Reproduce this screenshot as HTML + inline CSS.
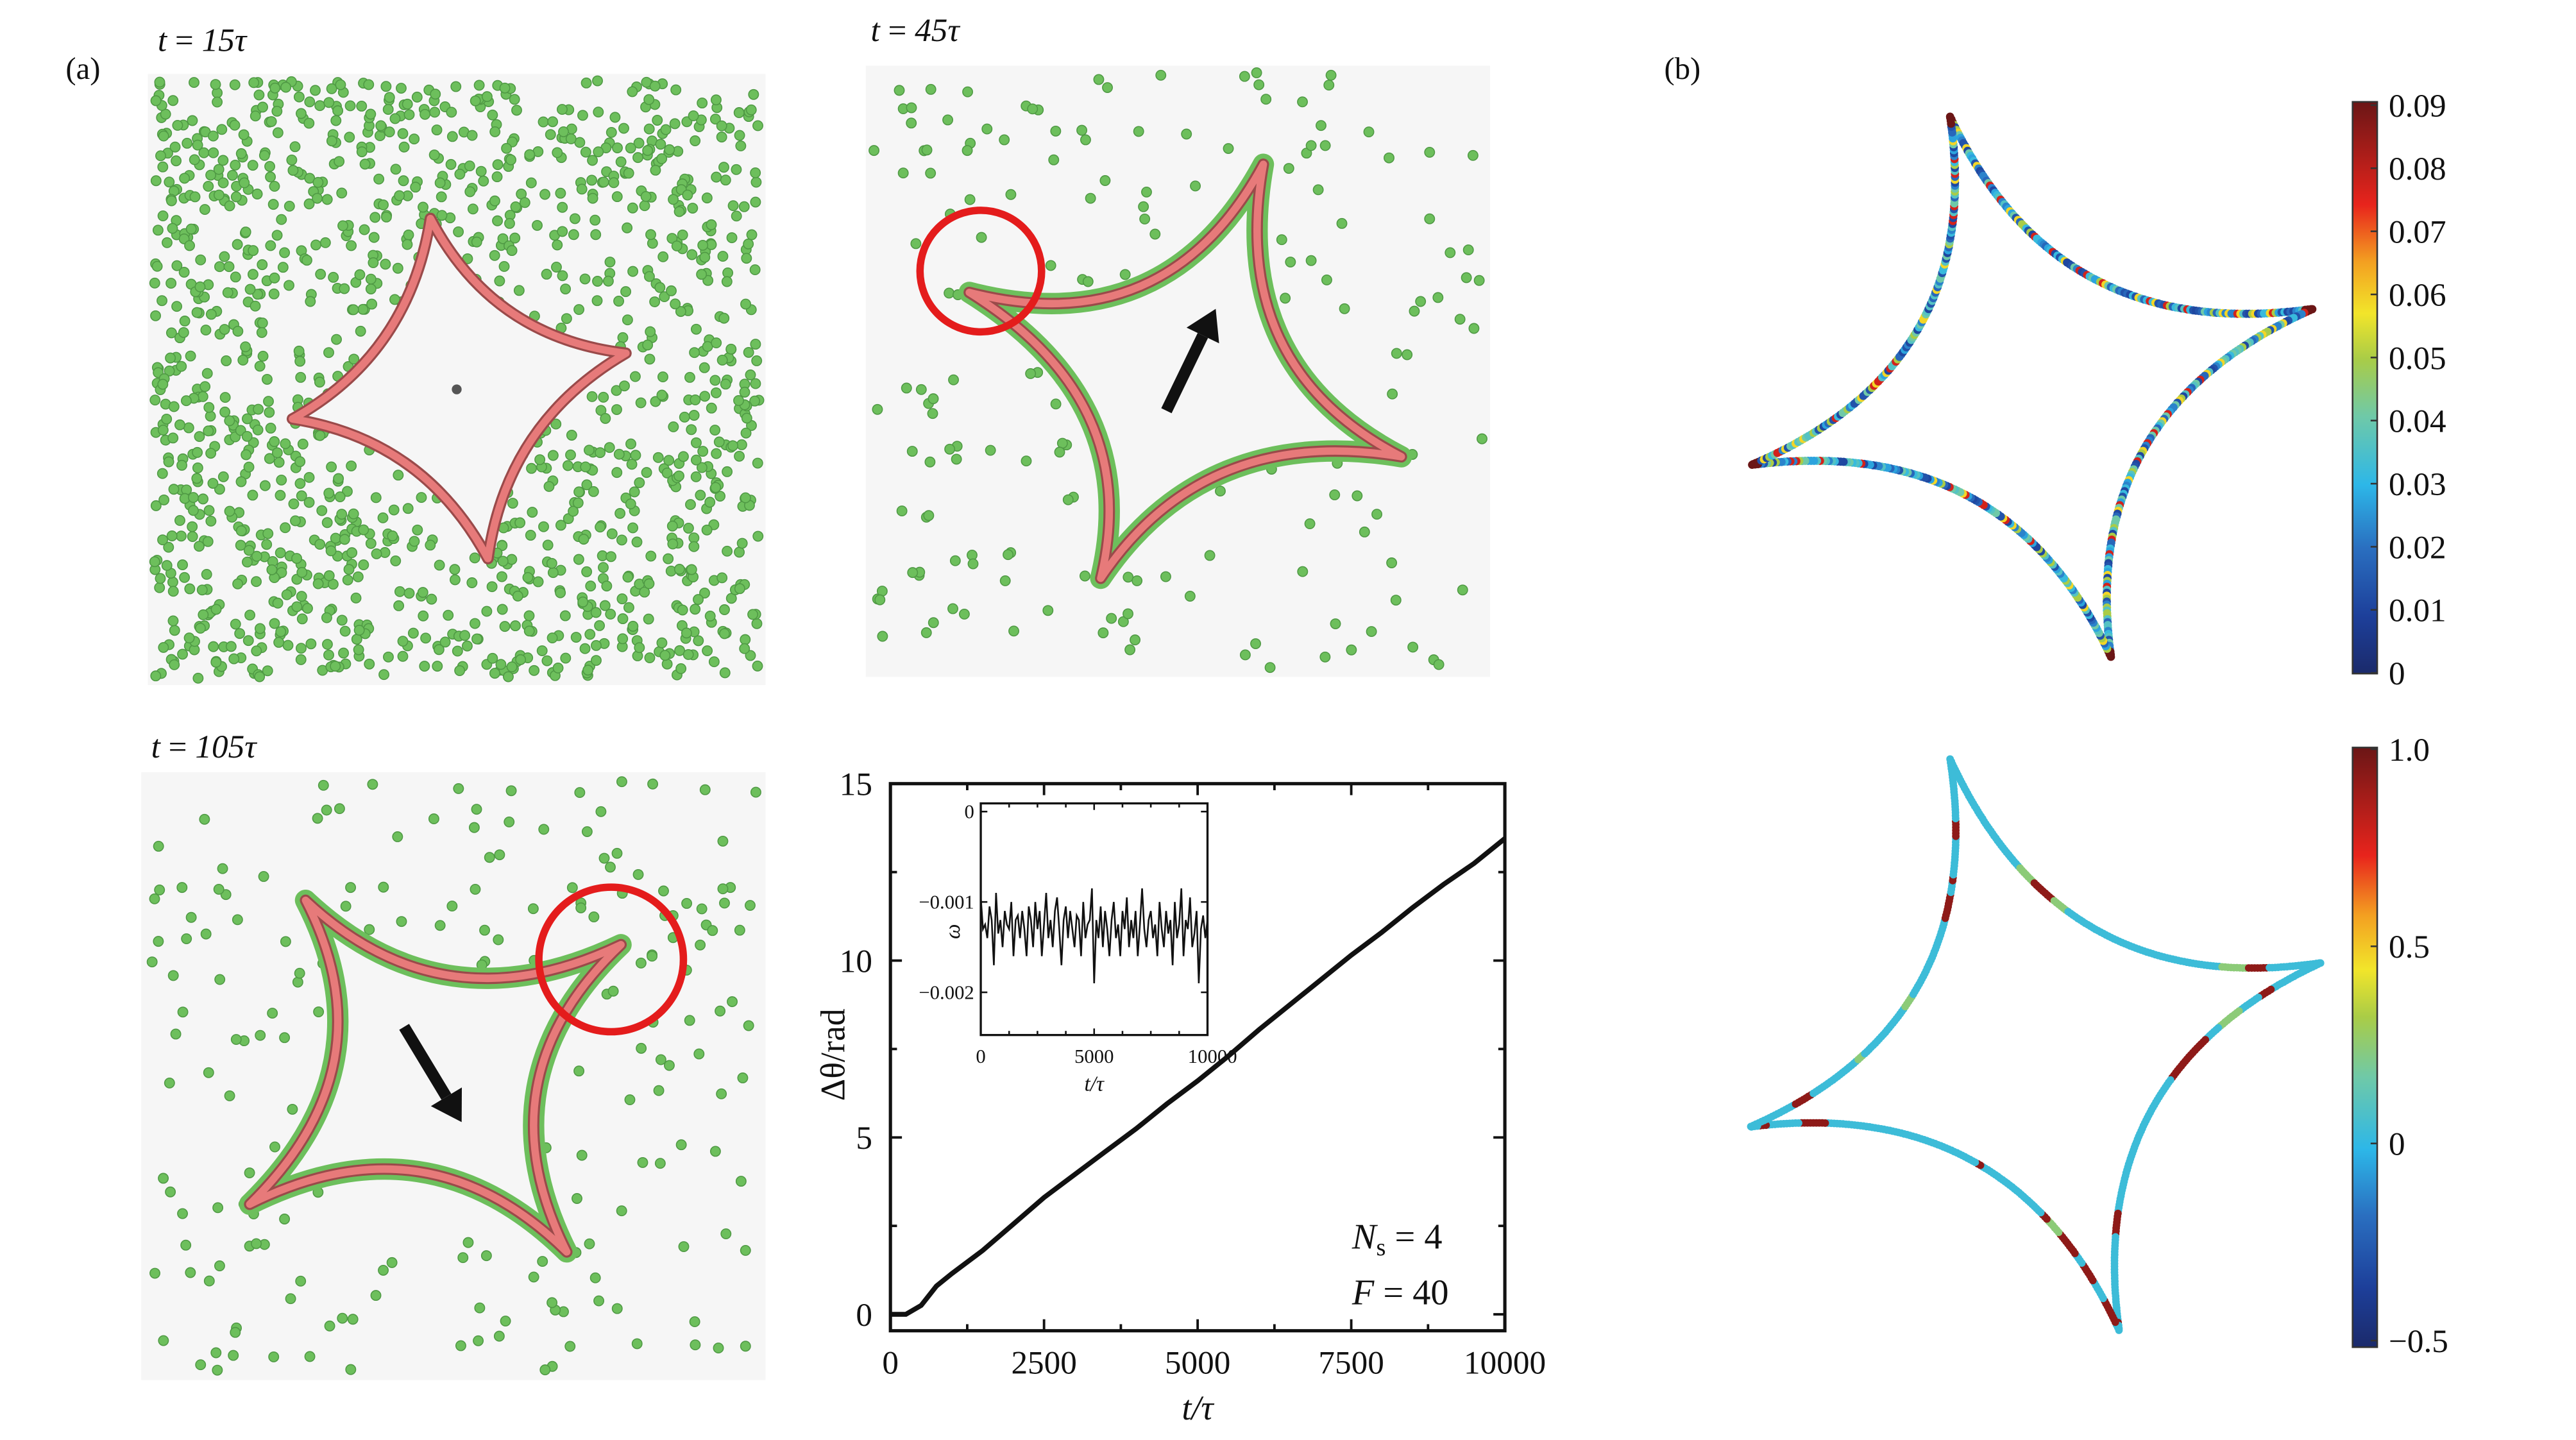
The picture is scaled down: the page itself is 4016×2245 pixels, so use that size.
<!DOCTYPE html>
<html><head><meta charset="utf-8"><style>
html,body{margin:0;padding:0;background:#fff;}
svg{display:block;}
text{font-family:"Liberation Serif",serif;fill:#111;}
</style></head><body>
<svg id="fig" xmlns="http://www.w3.org/2000/svg" width="4016" height="2245" viewBox="0 0 1568 876.5" preserveAspectRatio="none">
<defs>
<linearGradient id="jet" x1="0" y1="1" x2="0" y2="0">
<stop offset="0" stop-color="#1b2a6b"/><stop offset="0.1" stop-color="#1d3f9a"/><stop offset="0.22" stop-color="#2a6fc0"/><stop offset="0.33" stop-color="#2db7e8"/><stop offset="0.45" stop-color="#6fc9a8"/><stop offset="0.55" stop-color="#a9cc47"/><stop offset="0.63" stop-color="#f2e52a"/><stop offset="0.72" stop-color="#f3a021"/><stop offset="0.82" stop-color="#e8241c"/><stop offset="1" stop-color="#6b1616"/>
</linearGradient>
</defs>
<text x="40" y="48" font-size="19">(a)</text>
<text x="1013" y="48" font-size="19">(b)</text>
<text x="96" y="31" font-size="20" font-style="italic">t <tspan font-style="normal">=</tspan> 15τ</text>
<text x="530" y="25" font-size="20" font-style="italic">t <tspan font-style="normal">=</tspan> 45τ</text>
<text x="92" y="461" font-size="20" font-style="italic">t <tspan font-style="normal">=</tspan> 105τ</text>
<g id="sims"></g>
<g id="chart"></g>
<g id="right"></g>
</svg>
<script>
const NS="http://www.w3.org/2000/svg";
const svg=document.getElementById('fig');
function mk(tag,attrs,parent){const e=document.createElementNS(NS,tag);for(const k in attrs)e.setAttribute(k,attrs[k]);(parent||svg).appendChild(e);return e;}
function rng(seed){return function(){seed|=0;seed=seed+0x6D2B79F5|0;let t=Math.imul(seed^seed>>>15,1|seed);t=t+Math.imul(t^t>>>7,61|t)^t;return((t^t>>>14)>>>0)/4294967296;}}
function starPath(tips,c,k){let d='M'+tips[0][0]+' '+tips[0][1];for(let i=0;i<4;i++){const A=tips[i],B=tips[(i+1)%4];const mx=(A[0]+B[0])/2,my=(A[1]+B[1])/2;const cx=c[0]+k*(mx-c[0]),cy=c[1]+k*(my-c[1]);d+=' Q'+cx.toFixed(1)+' '+cy.toFixed(1)+' '+B[0]+' '+B[1];}return d+' Z';}

const sims=document.getElementById('sims');
const panels=[
 {x:90,y:45,w:376,h:372,tips:[[262,133],[381,215],[297,340],[178,255]],c:[278,237],k:0.5,n:1300,coat:false,seed:7},
 {x:527,y:40,w:380,h:372,tips:[[590,178],[769,100],[853,278],[670,352]],c:[722,236],k:0.28,n:170,coat:true,seed:11},
 {x:86,y:470,w:380,h:370,tips:[[186,548],[378,575],[345,762],[152,733]],c:[265,652],k:0.28,n:190,coat:true,seed:23}
];
panels.forEach((p,i)=>{
 const g=mk('g',{},sims);
 
 
 const bg=mk('rect',{x:p.x,y:p.y,width:p.w,height:p.h,fill:'#f6f6f6'},g);
 
 
 const d=starPath(p.tips,p.c,p.k);
 const probe=mk('path',{d:d,fill:'#000',opacity:0},g);
 const r=rng(p.seed);
 const dg=mk('g',{},g);
 
 
 let placed=0,tries=0;
 while(placed<p.n&&tries<20000){tries++;
  const x=p.x+4+r()*(p.w-8),y=p.y+4+r()*(p.h-8);
  let inside=false;try{inside=probe.isPointInFill(new DOMPoint(x,y));}catch(e){}
  if(inside)continue;
  if(i===0){const dx=x-p.c[0],dy=y-p.c[1];const dd=Math.sqrt(dx*dx+dy*dy);if(dd<150&&r()>0.35+dd/300)continue;}
  mk('circle',{cx:x.toFixed(1),cy:y.toFixed(1),r:3,fill:'#6dbf5c',stroke:'#4f9944','stroke-width':0.6},dg);
  placed++;
 }
 probe.remove();
 if(p.coat){const co=mk('path',{d:d,fill:'none',stroke:'#6dbf5c','stroke-width':13,'stroke-linejoin':'round'},g);
  
  }
 const fil=mk('path',{d:d,fill:p.coat?'none':'#f6f6f6',stroke:'#9a4a4a','stroke-width':7,'stroke-linejoin':'round'},g);
 
 
 const fil2=mk('path',{d:d,fill:'none',stroke:'#e77a7a','stroke-width':4.5,'stroke-linejoin':'round'},g);
 
 
 if(i===0){const cd=mk('circle',{cx:278,cy:237,r:3,fill:'#555'},g);
  
  }
});
function arrow(x1,y1,x2,y2,name){
 const ang=Math.atan2(y2-y1,x2-x1),hl=18,hw=11;
 const bx=x2-hl*Math.cos(ang),by=y2-hl*Math.sin(ang);
 const l=mk('line',{x1:x1,y1:y1,x2:bx,y2:by,stroke:'#111','stroke-width':7},sims);
 
 
 const px=-Math.sin(ang)*hw,py=Math.cos(ang)*hw;
 const h=mk('polygon',{points:`${x2},${y2} ${bx+px},${by+py} ${bx-px},${by-py}`,fill:'#111'},sims);
 
 
}
arrow(710,250,740,188,'rotation-arrow-45');
arrow(246,625,281,683,'rotation-arrow-105');
const c1=mk('circle',{cx:597,cy:165,r:37,fill:'none',stroke:'#e41c1c','stroke-width':4.5},sims);


const c2=mk('circle',{cx:372,cy:584,r:44,fill:'none',stroke:'#e41c1c','stroke-width':4.5},sims);



const tVals=[0,250,500,750,1000,1500,2000,2500,3000,3500,4000,4500,5000,5500,6000,6500,7000,7500,8000,8500,9000,9500,10000];
const thetaVals=[0,0,0.25,0.8,1.15,1.8,2.55,3.3,3.95,4.6,5.25,5.95,6.6,7.3,8.05,8.75,9.45,10.15,10.8,11.5,12.15,12.75,13.45];
const xTicks=[0,2500,5000,7500,10000];
const yTicks=[0,5,10,15];
const omegaVals=[-0.00095,-0.0013,-0.00125,-0.0014,-0.00105,-0.0012,-0.0017,-0.0009,-0.00135,-0.0012,-0.0015,-0.0011,-0.00125,-0.0013,-0.001,-0.0016,-0.0012,-0.00115,-0.0014,-0.0011,-0.0013,-0.0016,-0.00105,-0.0012,-0.0015,-0.001,-0.0013,-0.0011,-0.0016,-0.00125,-0.0009,-0.0014,-0.0012,-0.0015,-0.0011,-0.00095,-0.0013,-0.0017,-0.0012,-0.00105,-0.0014,-0.0011,-0.0013,-0.0015,-0.00115,-0.0012,-0.0016,-0.001,-0.0014,-0.00125,-0.0012,-0.00085,-0.0019,-0.0012,-0.0014,-0.00105,-0.0015,-0.0011,-0.0013,-0.0016,-0.0012,-0.001,-0.0014,-0.00125,-0.0016,-0.0011,-0.0013,-0.00095,-0.0015,-0.0012,-0.0014,-0.0011,-0.0016,-0.00125,-0.00085,-0.0013,-0.0015,-0.0012,-0.0011,-0.0014,-0.00125,-0.0016,-0.001,-0.0013,-0.0015,-0.0011,-0.00135,-0.0012,-0.0017,-0.001,-0.0014,-0.00125,-0.00085,-0.0016,-0.0012,-0.0013,-0.00095,-0.0015,-0.00135,-0.0011,-0.0019,-0.0013,-0.00115,-0.0014,-0.0012];
const insetXTicks=[0,5000,10000];
const insetYTicks=[0,-0.001,-0.002];

const ch=document.getElementById('chart');
const X0=542,X1=916,Y0=810,Yt=477;
const xS=t=>X0+t/10000*(X1-X0);
const yS=v=>800-v/15*(800-Yt);
const fr=mk('rect',{x:X0,y:Yt,width:X1-X0,height:Y0-Yt,fill:'none',stroke:'#111','stroke-width':2},ch);


for(let t=0;t<=10000;t+=1250){const x=xS(t),L=t%2500===0?7:4;
 mk('line',{x1:x,y1:Y0,x2:x,y2:Y0-L,stroke:'#111','stroke-width':1.5},ch);
 mk('line',{x1:x,y1:Yt,x2:x,y2:Yt+L,stroke:'#111','stroke-width':1.5},ch);}
xTicks.forEach(t=>{const tx=mk('text',{x:xS(t),y:836,'font-size':20,'text-anchor':'middle'},ch);tx.textContent=t;
 
 });
for(let v=0;v<=15;v+=2.5){const y=yS(v),L=v%5===0?7:4;
 mk('line',{x1:X0,y1:y,x2:X0+L,y2:y,stroke:'#111','stroke-width':1.5},ch);
 mk('line',{x1:X1,y1:y,x2:X1-L,y2:y,stroke:'#111','stroke-width':1.5},ch);}
yTicks.forEach(v=>{const tx=mk('text',{x:531,y:yS(v)+7,'font-size':20,'text-anchor':'end'},ch);tx.textContent=v;
 
 });
const xt=mk('text',{x:729,y:864,'font-size':21,'text-anchor':'middle','font-style':'italic'},ch);xt.textContent='t/τ';


const yt=mk('text',{x:0,y:0,'font-size':21,'text-anchor':'middle',transform:'translate(514,642) rotate(-90)'},ch);yt.textContent='Δθ/rad';


const ln=mk('path',{d:tVals.map((t,i)=>(i?'L':'M')+xS(t).toFixed(1)+' '+yS(thetaVals[i]).toFixed(1)).join(' '),fill:'none',stroke:'#111','stroke-width':3},ch);


const a1=mk('text',{x:823,y:760,'font-size':22,'font-style':'italic'},ch);a1.innerHTML='N<tspan font-size="15" font-style="normal" dy="4">s</tspan><tspan dy="-4" font-style="normal"> = 4</tspan>';


const a2=mk('text',{x:823,y:794,'font-size':22,'font-style':'italic'},ch);a2.innerHTML='F<tspan font-style="normal"> = 40</tspan>';



const IX0=597,IX1=735,IY0=489,IY1=630;
const ixS=t=>IX0+t/10000*(IX1-IX0);
const iyS=w=>494+(-w/0.001)*55;
const ig=mk('g',{},ch);


mk('rect',{x:IX0,y:IY0,width:IX1-IX0,height:IY1-IY0,fill:'#fff',stroke:'#111','stroke-width':1.3},ig);
insetYTicks.forEach(w=>{const y=iyS(w);mk('line',{x1:IX0,y1:y,x2:IX0+4,y2:y,stroke:'#111'},ig);mk('line',{x1:IX1,y1:y,x2:IX1-4,y2:y,stroke:'#111'},ig);
 const tx=mk('text',{x:593,y:y+4,'font-size':12,'text-anchor':'end'},ig);tx.textContent=w===0?'0':'−'+Math.abs(w).toFixed(3);
 
 });
for(let t=0;t<=10000;t+=1250){const x=ixS(t);mk('line',{x1:x,y1:IY1,x2:x,y2:IY1-(t%5000===0?4:2.5),stroke:'#111'},ig);mk('line',{x1:x,y1:IY0,x2:x,y2:IY0+(t%5000===0?4:2.5),stroke:'#111'},ig);}
insetXTicks.forEach(t=>{const tx=mk('text',{x:ixS(t)+(t===10000?3:0),y:647,'font-size':12,'text-anchor':'middle'},ig);tx.textContent=t;
 
 });
const ixt=mk('text',{x:666,y:664,'font-size':13,'text-anchor':'middle','font-style':'italic'},ig);ixt.textContent='t/τ';


const iyt=mk('text',{x:0,y:0,'font-size':13,'text-anchor':'middle','font-style':'italic',transform:'translate(584,567) rotate(-90)'},ig);iyt.textContent='ω';


const n=omegaVals.length;
const il=mk('path',{d:omegaVals.map((w,i)=>(i?'L':'M')+ixS(i*10000/(n-1)).toFixed(2)+' '+iyS(w).toFixed(2)).join(' '),fill:'none',stroke:'#111','stroke-width':1},ig);



const rg=document.getElementById('right');
function jet(v){const st=[[0,[27,42,107]],[0.1,[29,63,154]],[0.22,[42,111,192]],[0.33,[45,183,232]],[0.45,[111,201,168]],[0.55,[169,204,71]],[0.63,[242,229,42]],[0.72,[243,160,33]],[0.82,[232,36,28]],[1,[107,22,22]]];
 for(let i=1;i<st.length;i++){if(v<=st[i][0]){const a=st[i-1],b=st[i],f=(v-a[0])/(b[0]-a[0]);return 'rgb('+a[1].map((c,j)=>Math.round(c+f*(b[1][j]-c))).join(',')+')';}}return 'rgb(107,22,22)';}
function colorStar(tips,c,k,seed,mode,name){
 const g=mk('g',{},rg);
 
 
 const p=mk('path',{d:starPath(tips,c,k),fill:'none'},g);
 const L=p.getTotalLength(),r=rng(seed);let run=0,cur=0.4;
 for(let s=0;s<L;s+=1.8){const pt=p.getPointAtLength(s);
  let v;
  if(mode===1){v=[0.12,0.2,0.25,0.35,0.4,0.45,0.55,0.65,0.15,0.3,0.85][Math.floor(r()*11)];}
  else{if(run<=0){run=2+Math.floor(r()*8);cur=r()<0.22?0.95:(r()<0.1?0.5:0.36);}run--;v=cur;}
  let near=false;tips.forEach(t=>{if(Math.hypot(pt.x-t[0],pt.y-t[1])<5)near=true;});
  if(near&&mode===1)v=1;
  if(near&&mode===2)v=0.36;
  mk('circle',{cx:pt.x.toFixed(1),cy:pt.y.toFixed(1),r:mode===1?2.5:2.3,fill:jet(v)},g);}
}
colorStar([[1187,71],[1408,188],[1285,400],[1066,283]],[1237,237],0.25,5,1,'velocity-star');
colorStar([[1187,462],[1413,586],[1290,810],[1065,686]],[1240,638],0.25,9,2,'order-star');
function cbar(x,y,h,labels,ys,name){
 const g=mk('g',{},rg);
 
 
 mk('rect',{x:x,y:y,width:15,height:h,fill:'url(#jet)',stroke:'#333','stroke-width':1},g);
 labels.forEach((l,i)=>{mk('line',{x1:x+11,y1:ys[i],x2:x+15,y2:ys[i],stroke:'#333'},g);
  const t=mk('text',{x:x+22,y:ys[i]+7,'font-size':20},g);t.textContent=l;
  
  });
}
const cb1Labels=['0.09','0.08','0.07','0.06','0.05','0.04','0.03','0.02','0.01','0'];
cbar(1432,62,348,cb1Labels,cb1Labels.map((l,i)=>64+i*38.4),'velocity-colorbar');
const cb2Labels=['1.0','0.5','0','−0.5'];
cbar(1432,455,365,cb2Labels,cb2Labels.map((l,i)=>456+i*120),'order-colorbar');
</script>
</body></html>
